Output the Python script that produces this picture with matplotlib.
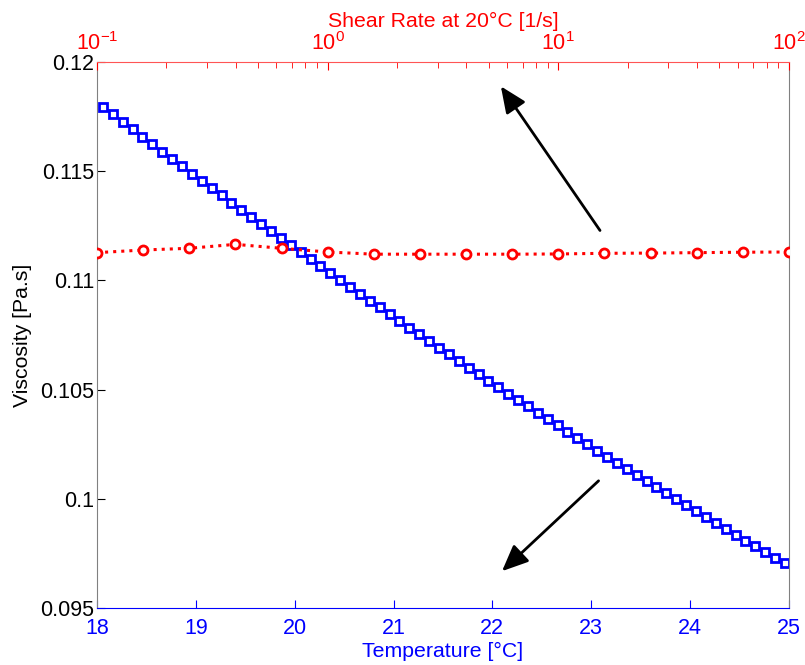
import matplotlib
matplotlib.use("Agg")
import matplotlib.pyplot as plt
from matplotlib.ticker import FixedLocator, FixedFormatter

plt.rcParams['font.family'] = ['Liberation Sans', 'DejaVu Sans']
plt.rcParams['mathtext.fontset'] = 'custom'
plt.rcParams['mathtext.rm'] = 'Liberation Sans'
plt.rcParams['mathtext.default'] = 'regular'

# temperature sweep (bottom axis)
temperature = [18.06, 18.16, 18.26, 18.36, 18.46, 18.56, 18.66, 18.76, 18.86, 18.96,
               19.06, 19.16, 19.26, 19.36, 19.46, 19.56, 19.66, 19.76, 19.86, 19.96,
               20.06, 20.16, 20.26, 20.36, 20.46, 20.56, 20.66, 20.76, 20.86, 20.96,
               21.06, 21.16, 21.26, 21.36, 21.46, 21.56, 21.66, 21.76, 21.86, 21.96,
               22.06, 22.16, 22.26, 22.36, 22.46, 22.56, 22.66, 22.76, 22.86, 22.96,
               23.06, 23.16, 23.26, 23.36, 23.46, 23.56, 23.66, 23.76, 23.86, 23.96,
               24.06, 24.16, 24.26, 24.36, 24.46, 24.56, 24.66, 24.76, 24.86, 24.96]
visc_temp = [0.11795, 0.11761, 0.11726, 0.11692, 0.11658, 0.11624, 0.11590, 0.11556, 0.11523, 0.11489,
             0.11456, 0.11423, 0.11389, 0.11356, 0.11323, 0.11291, 0.11258, 0.11226, 0.11193, 0.11161,
             0.11129, 0.11097, 0.11065, 0.11033, 0.11001, 0.10970, 0.10938, 0.10907, 0.10876, 0.10845,
             0.10814, 0.10783, 0.10753, 0.10722, 0.10692, 0.10661, 0.10631, 0.10601, 0.10571, 0.10541,
             0.10512, 0.10482, 0.10452, 0.10423, 0.10394, 0.10365, 0.10336, 0.10307, 0.10278, 0.10250,
             0.10221, 0.10193, 0.10165, 0.10137, 0.10109, 0.10081, 0.10053, 0.10025, 0.09998, 0.09971,
             0.09943, 0.09916, 0.09889, 0.09862, 0.09836, 0.09809, 0.09782, 0.09756, 0.09730, 0.09704]

# shear rate sweep at 20 C (top axis)
shear_rate = [0.1, 0.158, 0.251, 0.398, 0.631, 1.0, 1.585, 2.512, 3.981, 6.31,
              10.0, 15.85, 25.12, 39.81, 63.1, 100.0]
visc_shear = [0.11127, 0.11139, 0.11147, 0.11165, 0.11147, 0.11130, 0.11120, 0.11120,
              0.11120, 0.11120, 0.11121, 0.11124, 0.11125, 0.11127, 0.11129, 0.11130]

y_ticks = [0.095, 0.1, 0.105, 0.11, 0.115, 0.12]
y_labels = ['0.095', '0.1', '0.105', '0.11', '0.115', '0.12']

fig = plt.figure(figsize=(8.05, 6.65), dpi=100)
ax = fig.add_axes([0.1205, 0.0857, 0.8595, 0.8211])

ax.plot(temperature, visc_temp, color='blue', linestyle='none', marker='s',
        markersize=5.5, markeredgewidth=2, markerfacecolor='white', markeredgecolor='blue')
ax.set_xlim(18, 25)
ax.set_ylim(0.095, 0.12)
ax.yaxis.set_major_locator(FixedLocator(y_ticks))
ax.yaxis.set_major_formatter(FixedFormatter(y_labels))
ax.tick_params(axis='y', direction='in', length=6, labelsize=15.5, colors='black', pad=2)
ax.tick_params(axis='x', direction='in', length=6, labelsize=15.5, colors='blue', pad=7)
ax.spines['bottom'].set_color('blue')
ax.spines['left'].set_color('#808080')
ax.spines['right'].set_color('#808080')
ax.spines['top'].set_visible(False)
ax.set_xlabel('Temperature [°C]', color='blue', fontsize=15.3, labelpad=2)
ax.set_ylabel('Viscosity [Pa.s]', color='black', fontsize=15.3, labelpad=6)

ax2 = ax.twiny()
ax2.plot(shear_rate, visc_shear, color='red', linestyle=':', linewidth=2.2,
         marker='o', markersize=6.5, markeredgewidth=2, markerfacecolor='white', markeredgecolor='red')
ax2.set_xscale('log')
ax2.set_xlim(0.1, 100)
ax2.tick_params(axis='x', which='major', direction='in', length=6, labelsize=15.5, colors='red', pad=5)
ax2.tick_params(axis='x', which='minor', direction='in', length=4, colors='red')
ax2.spines['top'].set_color('#ff5555')
ax2.spines['bottom'].set_visible(False)
ax2.spines['left'].set_visible(False)
ax2.spines['right'].set_visible(False)
ax2.set_xlabel('Shear Rate at 20°C [1/s]', color='red', fontsize=15.3, labelpad=4)

arrow = dict(arrowstyle='-|>,head_length=0.8,head_width=0.35', color='black', lw=2, mutation_scale=20)
ax.annotate('', xy=(22.07, 0.11899), xytext=(23.105, 0.11218), arrowprops=arrow)
ax.annotate('', xy=(22.077, 0.09660), xytext=(23.095, 0.10091), arrowprops=arrow)

fig.savefig('out.png', dpi=100)
